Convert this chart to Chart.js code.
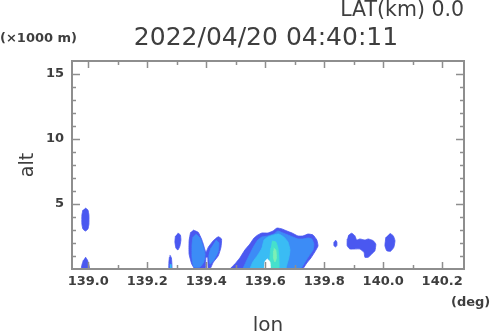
<!DOCTYPE html>
<html><head><meta charset="utf-8">
<script src="https://cdn.jsdelivr.net/npm/chart.js@4"></script>
<style>html,body{margin:0;padding:0;background:#fff;}canvas{display:block;}</style>
</head><body>
<canvas id="c" width="490" height="331"></canvas>
<script>
// ---------- data ----------
const lonTicks = [139.0, 139.2, 139.4, 139.6, 139.8, 140.0, 140.2];
const lonTickLabels = ['139.0', '139.2', '139.4', '139.6', '139.8', '140.0', '140.2'];
const lonMinorTicks = [139.0, 139.1, 139.2, 139.3, 139.4, 139.5, 139.6, 139.7, 139.8, 139.9, 140.0, 140.1, 140.2];
const altTicks = [5, 10, 15];
const altTickLabels = ['5', '10', '15'];
const altMinorTicks = [1, 2, 3, 4, 5, 6, 7, 8, 9, 10, 11, 12, 13, 14, 15];

const titleText = '2022/04/20 04:40:11';
const latText = 'LAT(km) 0.0';
const altUnit = '(\u00d71000 m)';
const lonUnit = '(deg)';
const altTitle = 'alt';
const lonTitle = 'lon';

// echo level 1 (outermost)
const w1Lon = [138.9905, 138.999, 139.0024, 139.0024, 138.999, 138.9905, 138.982, 138.9786, 138.9786, 138.982];
const w1Alt = [4.69, 4.54, 4.15, 3.46, 3.08, 2.92, 3.08, 3.46, 4.15, 4.54];
const w2Lon = [138.9905, 138.9973, 139.0024, 139.004, 138.977, 138.9786, 138.9837];
const w2Alt = [0.92, 0.69, 0.31, 0, 0, 0.31, 0.69];
const a1Lon = [139.277, 139.282, 139.2837, 139.2837, 139.2736, 139.2736, 139.2753];
const a1Alt = [1.08, 0.85, 0.38, 0, 0, 0.54, 0.92];
const b1Lon = [139.304, 139.3125, 139.3142, 139.3108, 139.304, 139.2973, 139.2939, 139.2956];
const b1Alt = [2.77, 2.62, 2.23, 1.77, 1.46, 1.62, 2.08, 2.54];
const c1Lon = [139.356, 139.373, 139.384, 139.390, 139.399, 139.407, 139.424, 139.441, 139.452, 139.450, 139.441, 139.424, 139.413, 139.407, 139.405, 139.399, 139.396, 139.362, 139.351, 139.342, 139.342, 139.347];
const c1Alt = [3.0, 2.82, 2.31, 1.92, 1.28, 1.67, 2.18, 2.48, 2.31, 1.67, 1.02, 0.52, 0, 0, 0.9, 0.9, 0, 0, 0.38, 1.15, 2.18, 2.82];
const e1Lon = [139.480, 139.497, 139.514, 139.531, 139.548, 139.562, 139.575, 139.589, 139.609, 139.626, 139.640, 139.657, 139.674, 139.691, 139.711, 139.728, 139.745, 139.762, 139.775, 139.779, 139.768, 139.755, 139.741, 139.728];
const e1Alt = [0, 0.38, 0.85, 1.46, 1.92, 2.38, 2.62, 2.77, 2.77, 2.92, 3.15, 3.08, 2.92, 2.77, 2.54, 2.54, 2.69, 2.62, 2.23, 1.77, 1.31, 0.85, 0.46, 0];
const f1Lon = [139.838, 139.843, 139.843, 139.838, 139.833, 139.833];
const f1Alt = [2.23, 2.08, 1.81, 1.69, 1.81, 2.08];
const g1Lon = [139.881, 139.893, 139.904, 139.910, 139.921, 139.938, 139.949, 139.966, 139.975, 139.972, 139.961, 139.949, 139.938, 139.935, 139.921, 139.904, 139.887, 139.878, 139.878];
const g1Alt = [2.56, 2.75, 2.56, 2.23, 2.31, 2.23, 2.31, 2.18, 1.92, 1.41, 1.15, 0.9, 0.9, 1.28, 1.54, 1.54, 1.54, 1.79, 2.31];
const h1Lon = [140.023, 140.034, 140.040, 140.036, 140.025, 140.012, 140.006, 140.009];
const h1Alt = [2.75, 2.56, 2.18, 1.67, 1.36, 1.41, 1.79, 2.44];

// echo level 2
const c2aLon = [139.365, 139.379, 139.389, 139.396, 139.392, 139.379, 139.358, 139.352, 139.352, 139.355];
const c2aAlt = [2.69, 2.38, 1.77, 1.15, 0.54, 0.15, 0.15, 0.85, 1.85, 2.46];
const c2bLon = [139.433, 139.443, 139.440, 139.426, 139.413, 139.409, 139.416];
const c2bAlt = [2.23, 2.0, 1.31, 0.69, 0.38, 1.0, 1.62];
const e2Lon = [139.524, 139.535, 139.548, 139.562, 139.575, 139.589, 139.609, 139.629, 139.643, 139.660, 139.677, 139.694, 139.711, 139.728, 139.745, 139.758, 139.765, 139.762, 139.748, 139.735, 139.721];
const e2Alt = [0, 0.54, 1.15, 1.77, 2.23, 2.46, 2.54, 2.69, 2.92, 2.77, 2.62, 2.46, 2.31, 2.31, 2.38, 2.31, 1.92, 1.46, 1.0, 0.54, 0];

// echo level 3
const a3Lon = [139.2765, 139.2815, 139.2815, 139.2765];
const a3Alt = [0.35, 0.35, 0, 0];
const e3Lon = [139.548, 139.558, 139.575, 139.589, 139.596, 139.609, 139.629, 139.646, 139.663, 139.677, 139.684, 139.680, 139.674, 139.670];
const e3Alt = [0, 0.54, 1.08, 1.62, 2.23, 2.46, 2.62, 2.69, 2.46, 2.08, 1.46, 0.85, 0.38, 0];

// echo level 4 and 5
const e4Lon = [139.623, 139.636, 139.643, 139.646, 139.646, 139.616, 139.616, 139.619];
const e4Alt = [2.15, 2.08, 1.62, 1.0, 0, 0, 0.85, 1.62];
const e5Lon = [139.629, 139.636, 139.638, 139.633, 139.628, 139.628];
const e5Alt = [1.62, 1.46, 0.85, 0.54, 0.85, 1.38];

// no-echo gap inside main cell
const gapLon = [139.597, 139.599, 139.607, 139.616, 139.618];
const gapAlt = [0, 0.54, 0.77, 0.54, 0];

// ---------- styles ----------
const levelColors = ['#4a58f0', '#3c8cf6', '#3abcf4', '#46e0cc', '#7cf0b6'];
const gapColor = '#ffffff';
const textColor = '#3e3e3e';
const frameColor = '#8e8e8e';
const FONT = '"DejaVu Sans", sans-serif';

const shapes = [
  [w1Lon, w1Alt, 0], [w2Lon, w2Alt, 0], [a1Lon, a1Alt, 0], [b1Lon, b1Alt, 0],
  [c1Lon, c1Alt, 0], [e1Lon, e1Alt, 0], [f1Lon, f1Alt, 0], [g1Lon, g1Alt, 0], [h1Lon, h1Alt, 0],
  [c2aLon, c2aAlt, 1], [c2bLon, c2bAlt, 1], [e2Lon, e2Alt, 1],
  [a3Lon, a3Alt, 2], [e3Lon, e3Alt, 2],
  [e4Lon, e4Alt, 3], [e5Lon, e5Alt, 4],
  [gapLon, gapAlt, 5]
];

const datasets = shapes.map(([lon, alt, lvl]) => {
  const color = lvl < levelColors.length ? levelColors[lvl] : gapColor;
  return {
    data: lon.map((v, i) => ({x: v, y: alt[i]})),
    showLine: true,
    fill: 'shape',
    backgroundColor: color,
    borderColor: color,
    borderWidth: 0.8,
    pointRadius: 0,
    pointHoverRadius: 0,
    tension: 0.15,
    order: 50 - lvl * 10
  };
});

const near = (a, b) => Math.abs(a - b) < 1e-6;

const decorPlugin = {
  id: 'decor',
  afterDatasetsDraw(chart) {
    const {ctx, chartArea: a, scales: {x, y}} = chart;
    ctx.save();
    ctx.strokeStyle = frameColor;
    ctx.lineWidth = 1.5;
    lonMinorTicks.forEach(v => {
      const px = Math.round(x.getPixelForValue(v)) + 0.5;
      const len = lonTicks.some(t => near(t, v)) ? 7 : 4;
      ctx.beginPath();
      ctx.moveTo(px, a.bottom); ctx.lineTo(px, a.bottom - len);
      ctx.moveTo(px, a.top); ctx.lineTo(px, a.top + len);
      ctx.stroke();
    });
    altMinorTicks.forEach(v => {
      const py = Math.round(y.getPixelForValue(v)) + 0.5;
      const len = altTicks.some(t => near(t, v)) ? 8 : 4;
      ctx.beginPath();
      ctx.moveTo(a.left, py); ctx.lineTo(a.left + len, py);
      ctx.moveTo(a.right, py); ctx.lineTo(a.right - len, py);
      ctx.stroke();
    });
    ctx.lineWidth = 2;
    ctx.strokeRect(a.left, a.top, a.right - a.left, a.bottom - a.top);
    ctx.restore();
  },
  afterDraw(chart) {
    const {ctx, chartArea: a} = chart;
    const cx = (a.left + a.right) / 2, cy = (a.top + a.bottom) / 2;
    ctx.save();
    ctx.fillStyle = textColor;
    ctx.textBaseline = 'alphabetic';
    ctx.font = '20.5px ' + FONT;
    ctx.textAlign = 'right';
    ctx.fillText(latText, a.right, 16);
    ctx.font = '25px ' + FONT;
    ctx.textAlign = 'center';
    ctx.fillText(titleText, cx - 2, 44.5);
    ctx.font = 'bold 13px ' + FONT;
    ctx.textAlign = 'left';
    ctx.fillText(altUnit, 0, 41.5);
    ctx.fillText(lonUnit, 451, 306);
    ctx.font = '20px ' + FONT;
    ctx.textAlign = 'center';
    ctx.fillText(lonTitle, cx, 331);
    ctx.translate(33, cy);
    ctx.rotate(-Math.PI / 2);
    ctx.font = '19px ' + FONT;
    ctx.fillText(altTitle, 0, 0);
    ctx.restore();
  }
};

new Chart(document.getElementById('c'), {
  type: 'scatter',
  data: {datasets},
  options: {
    responsive: false,
    devicePixelRatio: 1,
    animation: false,
    events: [],
    layout: {padding: {top: 61, right: 26, left: 0, bottom: 0}},
    plugins: {legend: {display: false}, tooltip: {enabled: false}, title: {display: false}},
    scales: {
      x: {
        type: 'linear', min: 138.945, max: 140.274,
        grid: {display: false, drawTicks: false}, border: {display: false},
        afterBuildTicks: s => { s.ticks = lonTicks.map(v => ({value: v})); },
        afterFit: s => { s.height = 62; },
        ticks: {
          autoSkip: false, maxRotation: 0, padding: 5, color: textColor,
          font: {family: FONT, size: 13, weight: 'bold'},
          callback: (v, i) => lonTickLabels[i]
        }
      },
      y: {
        type: 'linear', min: 0, max: 16,
        grid: {display: false, drawTicks: false}, border: {display: false},
        afterBuildTicks: s => { s.ticks = altTicks.map(v => ({value: v})); },
        afterFit: s => { s.width = 72; },
        ticks: {
          autoSkip: false, padding: 8, color: textColor,
          font: {family: FONT, size: 13, weight: 'bold'},
          callback: (v, i) => altTickLabels[i]
        }
      }
    }
  },
  plugins: [decorPlugin]
});
</script>
</body></html>
